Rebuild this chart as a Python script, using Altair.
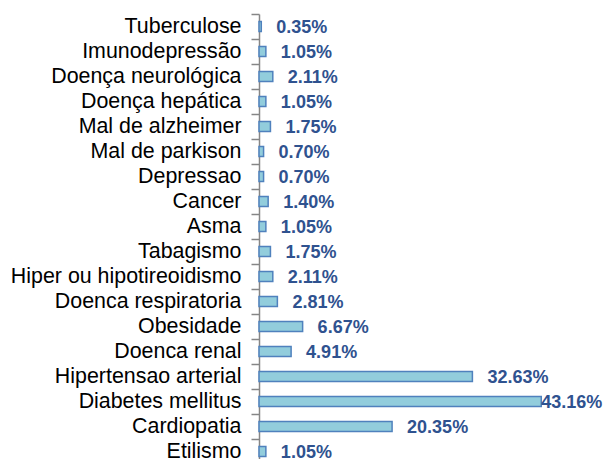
import altair as alt
import pandas as pd

categories = [
    "Tuberculose", "Imunodepressão", "Doença neurológica", "Doença hepática",
    "Mal de alzheimer", "Mal de parkison", "Depressao", "Cancer", "Asma",
    "Tabagismo", "Hiper ou hipotireoidismo", "Doenca respiratoria", "Obesidade",
    "Doenca renal", "Hipertensao arterial", "Diabetes mellitus", "Cardiopatia", "Etilismo",
]
values = [0.35, 1.05, 2.11, 1.05, 1.75, 0.70, 0.70, 1.40, 1.05,
          1.75, 2.11, 2.81, 6.67, 4.91, 32.63, 43.16, 20.35, 1.05]
labels = [f"{v:.2f}%" for v in values]

df = pd.DataFrame({"cat": categories, "value": values, "label": labels})

y = alt.Y("cat:N", sort=categories, title=None,
          scale=alt.Scale(paddingInner=0, paddingOuter=0),
          axis=alt.Axis(labelFontSize=21.4, labelFont="Liberation Sans", labelColor="#000000",
                        labelPadding=10, tickSize=8, tickColor="#868686", tickWidth=1.5,
                        domainColor="#868686", domainWidth=1.5, bandPosition=0,
                        labelLimit=400))
x = alt.X("value:Q", title=None, scale=alt.Scale(domain=[0, 50], nice=False),
          axis=None)

base = alt.Chart(df)

bars = base.mark_bar(height=10, color="#92CDDC", stroke="#4F81BD", strokeWidth=1.5).encode(x=x, y=y)

text_small = base.transform_filter("datum.value < 40").mark_text(
    align="left", baseline="middle", dx=15, dy=1, fontSize=18, fontWeight="bold",
    font="Liberation Sans", color="#2F528F").encode(x=x, y=y, text="label:N")
text_big = base.transform_filter("datum.value >= 40").mark_text(
    align="left", baseline="middle", dx=0, dy=1, fontSize=18, fontWeight="bold",
    font="Liberation Sans", color="#2F528F").encode(x=x, y=y, text="label:N")

chart = alt.layer(bars, text_small, text_big).properties(
    width=327, height=450,
    autosize=alt.AutoSizeParams(type="none"),
    padding={"left": 251, "top": 6, "right": 18, "bottom": 5},
).configure_view(stroke=None)

chart.save("out.html", embed_options={"renderer": "svg", "actions": False})
